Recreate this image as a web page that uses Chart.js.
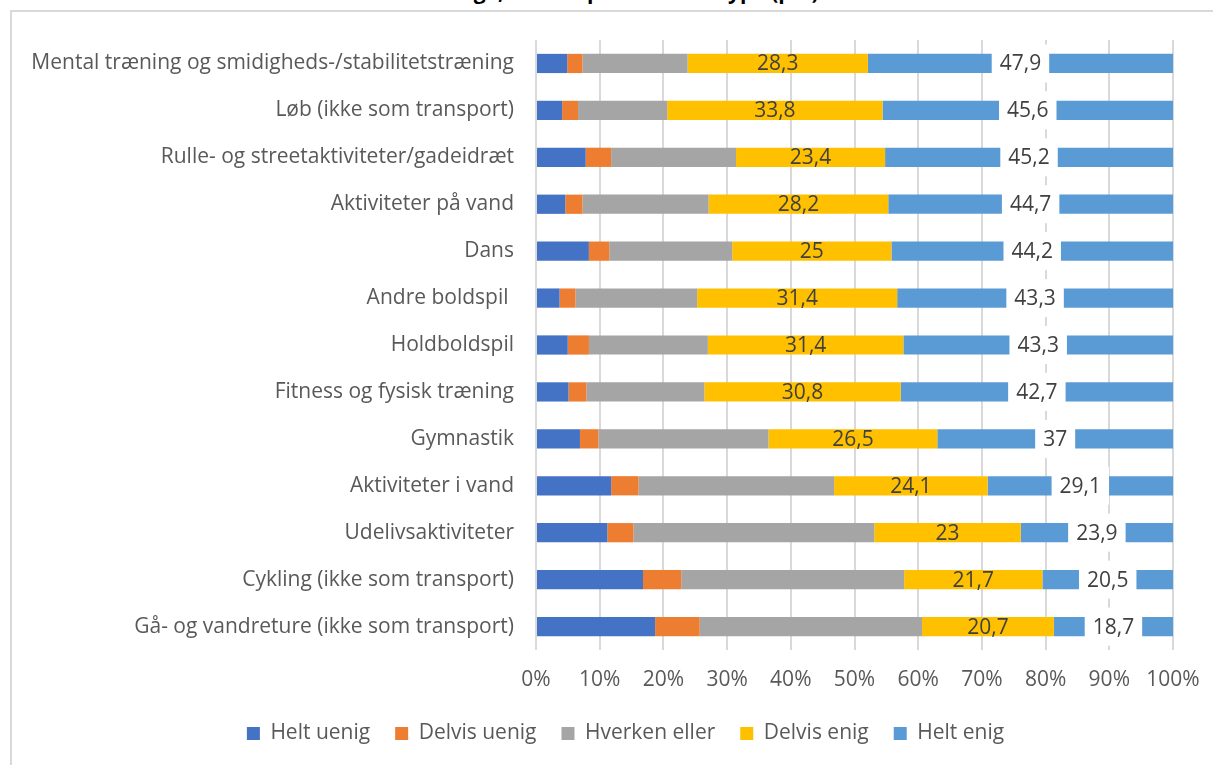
<!DOCTYPE html>
<html>
<head>
<meta charset="utf-8">
<script src="https://cdn.jsdelivr.net/npm/chart.js@4.4.0/dist/chart.umd.min.js"></script>
<style>
body{margin:0;background:#fff;overflow:hidden;}
#wrap{position:relative;width:1213px;height:765px;overflow:hidden;background:#fff;}
#frame{position:absolute;left:10px;top:10px;width:1300px;height:900px;border-left:2px solid #d9d9d9;border-top:2px solid #d9d9d9;}
#title{position:absolute;left:0;width:1194px;top:-21px;text-align:center;font:bold 21px 'Open Sans';line-height:24px;color:#000;}
canvas{position:absolute;left:0;top:0;}
</style>
</head>
<body>
<div id="wrap">
  <div id="title">Andel enige, fordelt på aktivitetstype (pct)</div>
  <div id="frame"></div>
  <canvas id="myChart" width="1213" height="765"></canvas>
</div>
<script>
// categories top to bottom
var categories = [
    'Mental træning og smidigheds-/stabilitetstræning',
    'Løb (ikke som transport)',
    'Rulle- og streetaktiviteter/gadeidræt',
    'Aktiviteter på vand',
    'Dans',
    'Andre boldspil ',
    'Holdboldspil',
    'Fitness og fysisk træning',
    'Gymnastik',
    'Aktiviteter i vand',
    'Udelivsaktiviteter',
    'Cykling (ikke som transport)',
    'Gå- og vandreture (ikke som transport)'
];
var seriesNames = ['Helt uenig', 'Delvis uenig', 'Hverken eller', 'Delvis enig', 'Helt enig'];
var heltUenig   = [4.9, 4.1, 7.8, 4.6, 8.3, 3.7, 5.1, 5.1, 6.9, 11.8, 11.2, 16.8, 18.7];
var delvisUenig = [2.4, 2.5, 4.0, 2.7, 3.2, 2.5, 3.4, 2.8, 2.9, 4.3, 4.1, 6.0, 7.0];
var hverken     = [16.5, 14.0, 19.6, 19.8, 19.3, 19.1, 19.1, 18.5, 26.7, 30.7, 37.8, 35.0, 34.9];
var delvisEnig  = [28.3, 33.8, 23.4, 28.2, 25, 31.4, 31.4, 30.8, 26.5, 24.1, 23, 21.7, 20.7];
var heltEnig    = [47.9, 45.6, 45.2, 44.7, 44.2, 43.3, 43.3, 42.7, 37, 29.1, 23.9, 20.5, 18.7];
var xTicks = [0, 10, 20, 30, 40, 50, 60, 70, 80, 90, 100];

var colors = ['#4472C4', '#ED7D31', '#A5A5A5', '#FFC000', '#5B9BD5'];
var allSeries = [heltUenig, delvisUenig, hverken, delvisEnig, heltEnig];

// 100% stacked: each row is shown as share of its total
var rowTotals = categories.map(function(c, i){
    return allSeries.reduce(function(s, arr){ return s + arr[i]; }, 0);
});
function share(arr){
    return arr.map(function(v, i){ return v / rowTotals[i] * 100; });
}

Chart.defaults.font.family = "'Open Sans'";
Chart.defaults.font.size = 21;
Chart.defaults.color = '#595959';

// labels on Delvis enig (plain) and Helt enig (white box)
var valueLabels = {
    id: 'valueLabels',
    afterLayout: function(chart){
        // the frame is wider than the window, so the legend sits a bit right of center
        chart.legend.left += 39;
        chart.legend.right += 39;
    },
    afterDatasetsDraw: function(chart){
        var c = chart.ctx;
        c.save();
        c.font = "21px 'Open Sans'";
        c.textAlign = 'center';
        c.textBaseline = 'middle';
        [3, 4].forEach(function(di){
            var ds = chart.data.datasets[di];
            chart.getDatasetMeta(di).data.forEach(function(bar, i){
                var txt = String(ds.raw[i]).replace('.', ',');
                var cx = (bar.x + bar.base) / 2;
                if(di == 4){
                    var w = c.measureText(txt).width + 16;
                    c.fillStyle = '#fff';
                    c.fillRect(cx - w / 2, bar.y - 19, w, 38);
                }
                c.fillStyle = '#404040';
                c.fillText(txt, cx, bar.y + 1);
            });
        });
        c.restore();
    }
};

var ctx = document.getElementById('myChart').getContext('2d');
var myChart = new Chart(ctx, {
    type: 'bar',
    data: {
        labels: categories,
        datasets: allSeries.map(function(arr, k){
            return {
                label: seriesNames[k],
                data: share(arr),
                raw: arr,
                backgroundColor: colors[k],
                borderWidth: 0,
                barPercentage: 0.41,
                categoryPercentage: 1
            };
        })
    },
    options: {
        indexAxis: 'y',
        responsive: false,
        animation: false,
        layout: { padding: { top: 40, right: 40, left: 0, bottom: 11 } },
        scales: {
            x: {
                stacked: true,
                min: 0,
                max: 100,
                afterBuildTicks: function(s){ s.ticks = xTicks.map(function(v){ return {value: v}; }); },
                ticks: { callback: function(v){ return v + '%'; }, padding: 17 },
                grid: { color: '#d9d9d9', lineWidth: 2, drawTicks: false },
                border: { display: false },
                afterFit: function(s){ s.height = 48; s.paddingLeft = 0; s.paddingRight = 0; }
            },
            y: {
                stacked: true,
                grid: { display: false, drawTicks: false },
                border: { display: false },
                ticks: { padding: 22 },
                afterFit: function(s){ s.width = 536; }
            }
        },
        plugins: {
            legend: {
                position: 'bottom',
                labels: { boxWidth: 13, boxHeight: 13, padding: 25 }
            },
            tooltip: { enabled: false }
        }
    },
    plugins: [valueLabels]
});
</script>
</body>
</html>
